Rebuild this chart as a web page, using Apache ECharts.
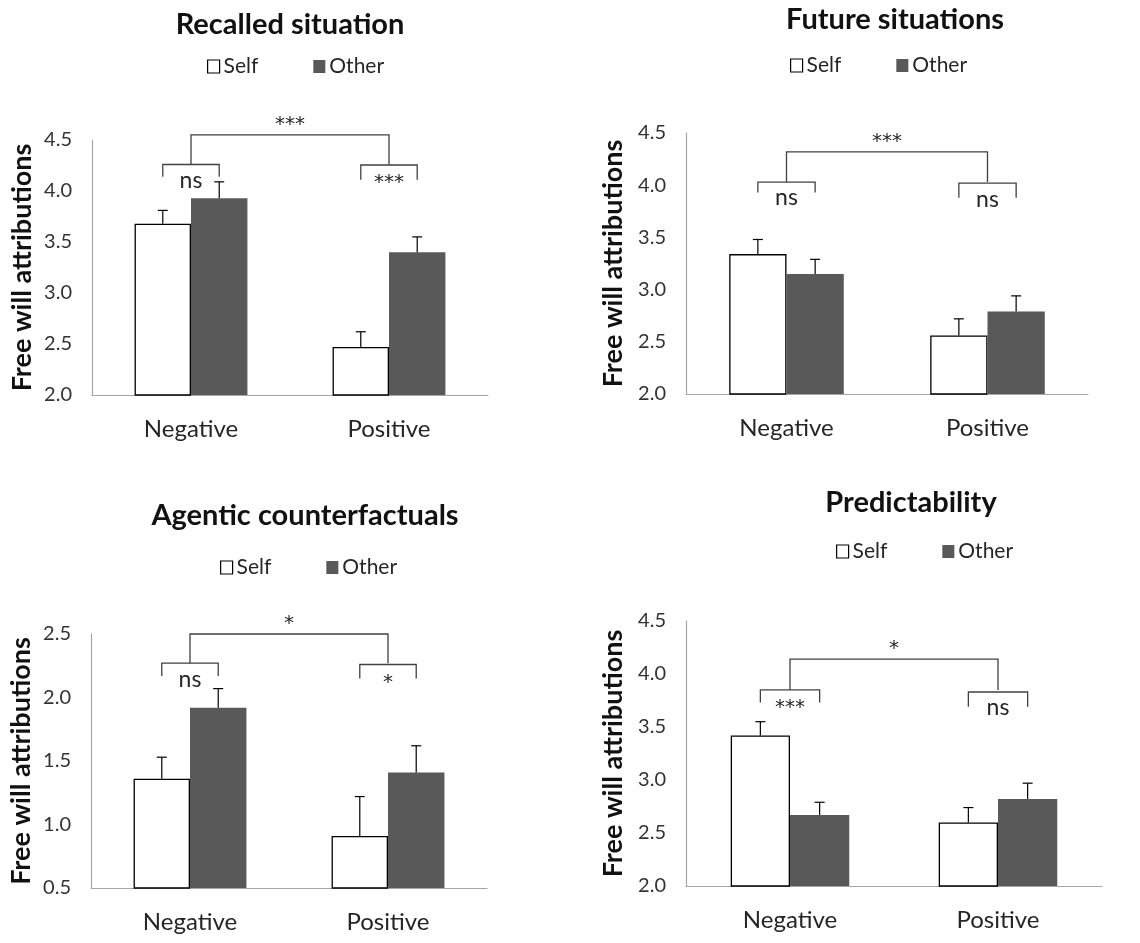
<!DOCTYPE html>
<html>
<head>
<meta charset="utf-8">
<script src="https://cdn.jsdelivr.net/npm/echarts@6/dist/echarts.min.js"></script>
<style>
  html, body { margin: 0; padding: 0; background: #fff; }
  #chart { width: 1140px; height: 943px; }
</style>
</head>
<body>
<div id="chart"></div>
<script>
// data
const categories = ["Negative", "Positive"];
const panelTitles = ["Recalled situation", "Future situations", "Agentic counterfactuals", "Predictability"];
const selfMeans = [[3.68, 2.47], [3.34, 2.56], [1.36, 0.91], [3.42, 2.60]];
const selfSE = [[0.13, 0.15], [0.14, 0.16], [0.17, 0.31], [0.13, 0.14]];
const otherMeans = [[3.93, 3.40], [3.15, 2.79], [1.92, 1.41], [2.67, 2.82]];
const otherSE = [[0.16, 0.15], [0.14, 0.15], [0.15, 0.21], [0.12, 0.15]];
const yMin = [2.0, 2.0, 0.5, 2.0];
const yMax = [4.5, 4.5, 2.5, 4.5];
const yStep = [0.5, 0.5, 0.5, 0.5];
// within-valence brackets: [category, line y, leg end y, label]
const withinBrackets = [
  [[0, 4.26, 4.14, "ns"], [1, 4.255, 4.11, "***"]],
  [[0, 4.03, 3.93, "ns"], [1, 4.02, 3.88, "ns"]],
  [[0, 2.27, 2.17, "ns"], [1, 2.26, 2.15, "*"]],
  [[0, 3.85, 3.73, "***"], [1, 3.83, 3.69, "ns"]]
];
// between-valence bracket: [line y, leg end y, label]
const betweenBrackets = [
  [4.55, 4.26, "***"],
  [4.32, 4.03, "***"],
  [2.50, 2.27, "*"],
  [4.14, 3.85, "*"]
];

// layout
const FONT = "Lato";
const GAP = 0.43;
const grids = [
  { left: 92, top: 140, width: 396, height: 255 },
  { left: 686, top: 133, width: 402, height: 261 },
  { left: 91, top: 634, width: 396, height: 254 },
  { left: 686, top: 621, width: 416, height: 265 }
];
const titlePos = [[290, 10], [895, 5], [305, 501], [911, 488]];
const legendPos = [[207, 56], [790, 55], [220, 557], [836, 541]];
const nameGaps = [56, 59, 56, 59];

const lineColor = "#404040";

function renderErr(params, api) {
  const cat = api.value(0), v = api.value(1), top = api.value(2), side = api.value(3);
  const band = api.size([1, 0])[0];
  const x = api.coord([cat, v])[0] + side * band * (1 - GAP) / 4;
  const y0 = api.coord([cat, v])[1];
  const y1 = api.coord([cat, top])[1];
  return {
    type: "group",
    children: [
      { type: "line", shape: { x1: x, y1: y0, x2: x, y2: y1 }, style: { stroke: "#000", lineWidth: 1.2 } },
      { type: "line", shape: { x1: x - 5, y1: y1, x2: x + 5, y2: y1 }, style: { stroke: "#000", lineWidth: 1.2 } }
    ]
  };
}

function bracketLabel(x, y, text, above) {
  const star = text.indexOf("*") >= 0;
  let yy;
  if (above) yy = y - (star ? 10 : 14);
  else yy = y + (star ? 18 : 16);
  return {
    type: "text",
    style: {
      text: text, x: x, y: yy, align: "center", verticalAlign: "middle",
      font: star ? "20px 'DejaVu Sans'" : "23px " + FONT, fill: "#262626"
    }
  };
}

function makeBracketRenderer(p) {
  return function (params, api) {
    const band = api.size([1, 0])[0];
    const off = band * (1 - GAP) / 4;
    const children = [];
    withinBrackets[p].forEach(function (b) {
      const c = api.coord([b[0], b[1]]);
      const leg = api.coord([b[0], b[2]])[1];
      children.push({
        type: "polyline",
        shape: { points: [[c[0] - off, leg], [c[0] - off, c[1]], [c[0] + off, c[1]], [c[0] + off, leg]] },
        style: { stroke: lineColor, lineWidth: 1.3, fill: null }
      });
      children.push(bracketLabel(c[0], c[1], b[3], false));
    });
    const bb = betweenBrackets[p];
    const a = api.coord([0, bb[0]]);
    const z = api.coord([1, bb[0]]);
    const leg = api.coord([0, bb[1]])[1];
    children.push({
      type: "polyline",
      shape: { points: [[a[0], leg], [a[0], a[1]], [z[0], z[1]], [z[0], leg]] },
      style: { stroke: lineColor, lineWidth: 1.3, fill: null }
    });
    children.push(bracketLabel((a[0] + z[0]) / 2, a[1], bb[2], true));
    return { type: "group", children: children };
  };
}

const option = {
  animation: false,
  backgroundColor: "#fff",
  textStyle: { fontFamily: FONT },
  title: panelTitles.map(function (t, i) {
    return {
      text: t, left: titlePos[i][0], top: titlePos[i][1], textAlign: "center", padding: 0,
      textStyle: { fontFamily: FONT, fontWeight: "bold", fontSize: 29, color: "#111" }
    };
  }),
  legend: legendPos.map(function (pos) {
    return {
      left: pos[0], top: pos[1], padding: 0, itemWidth: 12, itemHeight: 13, itemGap: 55,
      icon: "rect", selectedMode: false,
      textStyle: { fontFamily: FONT, fontSize: 21, color: "#262626", padding: [0, 0, 0, -1] },
      data: [
        { name: "Self", itemStyle: { color: "#fff", borderColor: "#000", borderWidth: 1.2 } },
        { name: "Other", itemStyle: { color: "#595959", borderWidth: 0 } }
      ]
    };
  }),
  grid: grids,
  xAxis: grids.map(function (g, i) {
    return {
      type: "category", gridIndex: i, data: categories,
      axisLine: { lineStyle: { color: "#a6a6a6", width: 1.2 } },
      axisTick: { show: false },
      axisLabel: { fontFamily: FONT, fontSize: 24, color: "#262626", margin: 22 }
    };
  }),
  yAxis: grids.map(function (g, i) {
    return {
      type: "value", gridIndex: i, min: yMin[i], max: yMax[i], interval: yStep[i],
      name: "Free will attributions", nameLocation: "middle", nameGap: nameGaps[i],
      nameTextStyle: { fontFamily: FONT, fontWeight: "bold", fontSize: 27, color: "#111" },
      axisLine: { show: true, lineStyle: { color: "#a6a6a6", width: 1.2 } },
      axisTick: { show: false },
      splitLine: { show: false },
      axisLabel: {
        fontFamily: FONT, fontSize: 20, color: "#333", margin: 20,
        formatter: function (v) { return v.toFixed(1); }
      }
    };
  }),
  series: []
};

for (let i = 0; i < 4; i++) {
  option.series.push({
    name: "Self", type: "bar", xAxisIndex: i, yAxisIndex: i,
    data: selfMeans[i], barGap: "0%", barCategoryGap: (GAP * 100) + "%",
    itemStyle: { color: "#fff", borderColor: "#000", borderWidth: 1.3 }
  });
  option.series.push({
    name: "Other", type: "bar", xAxisIndex: i, yAxisIndex: i,
    data: otherMeans[i], barGap: "0%", barCategoryGap: (GAP * 100) + "%",
    itemStyle: { color: "#595959" }
  });
  const errData = [];
  for (let c = 0; c < categories.length; c++) {
    errData.push([c, selfMeans[i][c], selfMeans[i][c] + selfSE[i][c], -1]);
    errData.push([c, otherMeans[i][c], otherMeans[i][c] + otherSE[i][c], 1]);
  }
  option.series.push({
    type: "custom", xAxisIndex: i, yAxisIndex: i, z: 5, silent: true,
    renderItem: renderErr, data: errData, clip: false
  });
  option.series.push({
    type: "custom", xAxisIndex: i, yAxisIndex: i, z: 5, silent: true,
    renderItem: makeBracketRenderer(i), data: [[0, yMin[i]]], clip: false
  });
}

const chart = echarts.init(document.getElementById("chart"), null, { renderer: "canvas" });
chart.setOption(option);
window.addEventListener("resize", function () { chart.resize(); });
</script>
</body>
</html>
